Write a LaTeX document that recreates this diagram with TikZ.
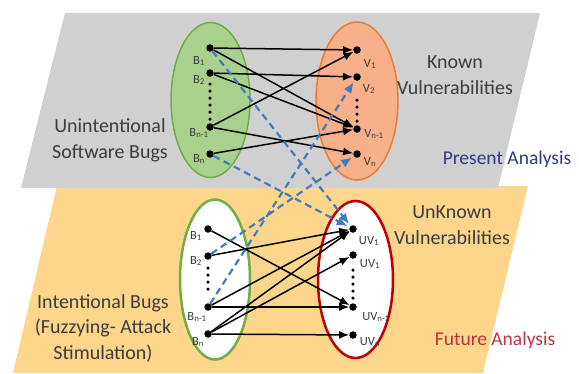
\documentclass[tikz,border=0pt]{standalone}
\usepackage{fontspec}
\setmainfont{Carlito}
\usetikzlibrary{arrows.meta,shapes.geometric,calc}
\definecolor{grayfill}{RGB}{208,208,208}
\definecolor{yellowfill}{RGB}{253,214,140}
\definecolor{greenfill}{RGB}{169,209,142}
\definecolor{greenline}{RGB}{112,173,71}
\definecolor{orangefill}{RGB}{247,176,138}
\definecolor{orangeline}{RGB}{237,125,49}
\definecolor{redline}{RGB}{192,0,0}
\definecolor{bluedash}{RGB}{65,125,190}
\definecolor{txtgray}{RGB}{60,60,60}
\definecolor{presentblue}{RGB}{47,58,130}
\definecolor{futurered}{RGB}{192,50,60}
\tikzset{
  dot/.style={circle,fill=black,inner sep=0pt,minimum size=7.5pt},
  lab/.style={font=\fontsize{12.5}{12.5}\selectfont,text=txtgray,inner sep=0pt},
  bigtxt/.style={font=\fontsize{20}{26}\selectfont,text=txtgray,align=center,inner sep=0pt},
  arr/.style={-{Latex[length=10pt,width=8pt]},line width=1.5pt,black},
  barr/.style={-{Latex[length=11pt,width=9pt]},line width=2.2pt,bluedash,dash pattern=on 7pt off 4.5pt},
  ell/.style={ellipse,inner sep=0pt},
  vdots/.style={line width=3.5pt,dash pattern=on 0pt off 7pt,line cap=round}
}
\begin{document}
\begin{tikzpicture}[x=1pt,y=-1pt]
\useasboundingbox (0,0) rectangle (579,373);
% planes
\fill[yellowfill] (57,186) -- (528,186) -- (483,373) -- (13,373) -- cycle;
\fill[grayfill] (65,13) -- (540,13) -- (498,188) -- (21,188) -- cycle;
% ellipses
\node[ell,draw=greenline,fill=greenfill,line width=1.5pt,minimum width=79pt,minimum height=155pt] (tg) at (210.5,100) {};
\node[ell,draw=orangeline,fill=orangefill,line width=1.5pt,minimum width=82pt,minimum height=158pt] (to) at (357,101) {};
\node[ell,draw=greenline,fill=white,line width=2.5pt,minimum width=70pt,minimum height=160pt] (bg) at (215,279.5) {};
\node[ell,draw=redline,fill=white,line width=2.5pt,minimum width=75pt,minimum height=157pt] (br) at (355.5,279.5) {};
% top dots
\node[dot] (tb1) at (210,48) {};
\node[dot] (tb2) at (210,73) {};
\node[dot] (tbm) at (210,127) {};
\node[dot] (tbn) at (210,154) {};
\node[dot] (tv1) at (357,50) {};
\node[dot] (tv2) at (357,77) {};
\node[dot] (tvm) at (357,129) {};
\node[dot] (tvn) at (357,154) {};
% bottom dots
\node[dot] (bb1) at (208,229) {};
\node[dot] (bb2) at (208,256) {};
\node[dot] (bbm) at (208,307) {};
\node[dot] (bbn) at (208,334) {};
\node[dot] (bu1) at (353,229) {};
\node[dot] (bu2) at (353,255) {};
\node[dot] (bum) at (353,307) {};
\node[dot] (bun) at (353,335) {};
% vertical ellipses
\coordinate (tdb1) at (210,84); \coordinate (tdb2) at (210,120);
\coordinate (tdv1) at (357,100); \coordinate (tdv2) at (357,122);
\coordinate (bdb1) at (208,268); \coordinate (bdb2) at (208,296);
\coordinate (bdu1) at (353,270); \coordinate (bdu2) at (353,300);
\draw[vdots] (tdb1) -- (tdb2);
\draw[vdots] (tdv1) -- (tdv2);
\draw[vdots] (bdb1) -- (bdb2);
\draw[vdots] (bdu1) -- (bdu2);
% top black arrows
\draw[arr] (tb1) -- (tv1);
\draw[arr] (tb1) -- (tvm);
\draw[arr] (tb2) -- (tv2);
\draw[arr] (tb2) -- (tvm);
\draw[arr] (tbm) -- (tv1);
\draw[arr] (tbm) -- (tvn);
\draw[arr] (tbn) -- (tvm);
% bottom black arrows
\draw[arr] (bb1) -- (bum);
\draw[arr] (bb2) -- (bu1);
\draw[arr] (bbm) -- (bu1);
\draw[arr] (bbm) -- (bum);
\draw[arr] (bbn) -- (bu1);
\draw[arr] (bbn) -- (bu2);
\draw[arr] (bbn) -- (bun);
% blue dashed arrows
\draw[barr,shorten >=2pt] (tb1) -- (bu1);
\draw[barr,shorten >=2pt] (tbn) -- (bu1);
\draw[barr,shorten >=2pt] (bb2) -- (tvn);
\draw[barr,shorten >=2pt] (bbm) -- (tv2);
% labels top
\node[lab] (ltb1) at (199,61) {B\textsubscript{1}};
\node[lab] (ltb2) at (199,80) {B\textsubscript{2}};
\node[lab] (ltbm) at (199,133) {B\textsubscript{n-1}};
\node[lab] (ltbn) at (199,159) {B\textsubscript{n}};
\node[lab] (ltv1) at (370,64) {V\textsubscript{1}};
\node[lab] (ltv2) at (369,89) {V\textsubscript{2}};
\node[lab] (ltvm) at (374,134) {V\textsubscript{n-1}};
\node[lab] (ltvn) at (370,162) {V\textsubscript{n}};
% labels bottom
\node[lab] (lbb1) at (196,236) {B\textsubscript{1}};
\node[lab] (lbb2) at (196,261) {B\textsubscript{2}};
\node[lab] (lbbm) at (197,317) {B\textsubscript{n-1}};
\node[lab] (lbbn) at (198,342) {B\textsubscript{n}};
\node[lab] (lbu1) at (369,241) {UV\textsubscript{1}};
\node[lab] (lbu2) at (370,264) {UV\textsubscript{1}};
\node[lab] (lbum) at (376,317) {UV\textsubscript{n-1}};
\node[lab] (lbun) at (370,342) {UV\textsubscript{n}};
% texts
\node[bigtxt] (t1) at (110,140) {Unintentional\\Software Bugs};
\node[bigtxt] (t2) at (455,75) {Known\\Vulnerabilities};
\node[bigtxt,font=\fontsize{19.5}{24}\selectfont,text=presentblue] (t3) at (507,159) {Present Analysis};
\node[bigtxt] (t4) at (452,225) {UnKnown\\Vulnerabilities};
\node[bigtxt,font=\fontsize{20}{25.5}\selectfont] (t5) at (103,328) {Intentional Bugs\\(Fuzzying- Attack\\Stimulation)};
\node[bigtxt,font=\fontsize{19.5}{24}\selectfont,text=futurered] (t6) at (495,340) {Future Analysis};
\end{tikzpicture}
\end{document}
